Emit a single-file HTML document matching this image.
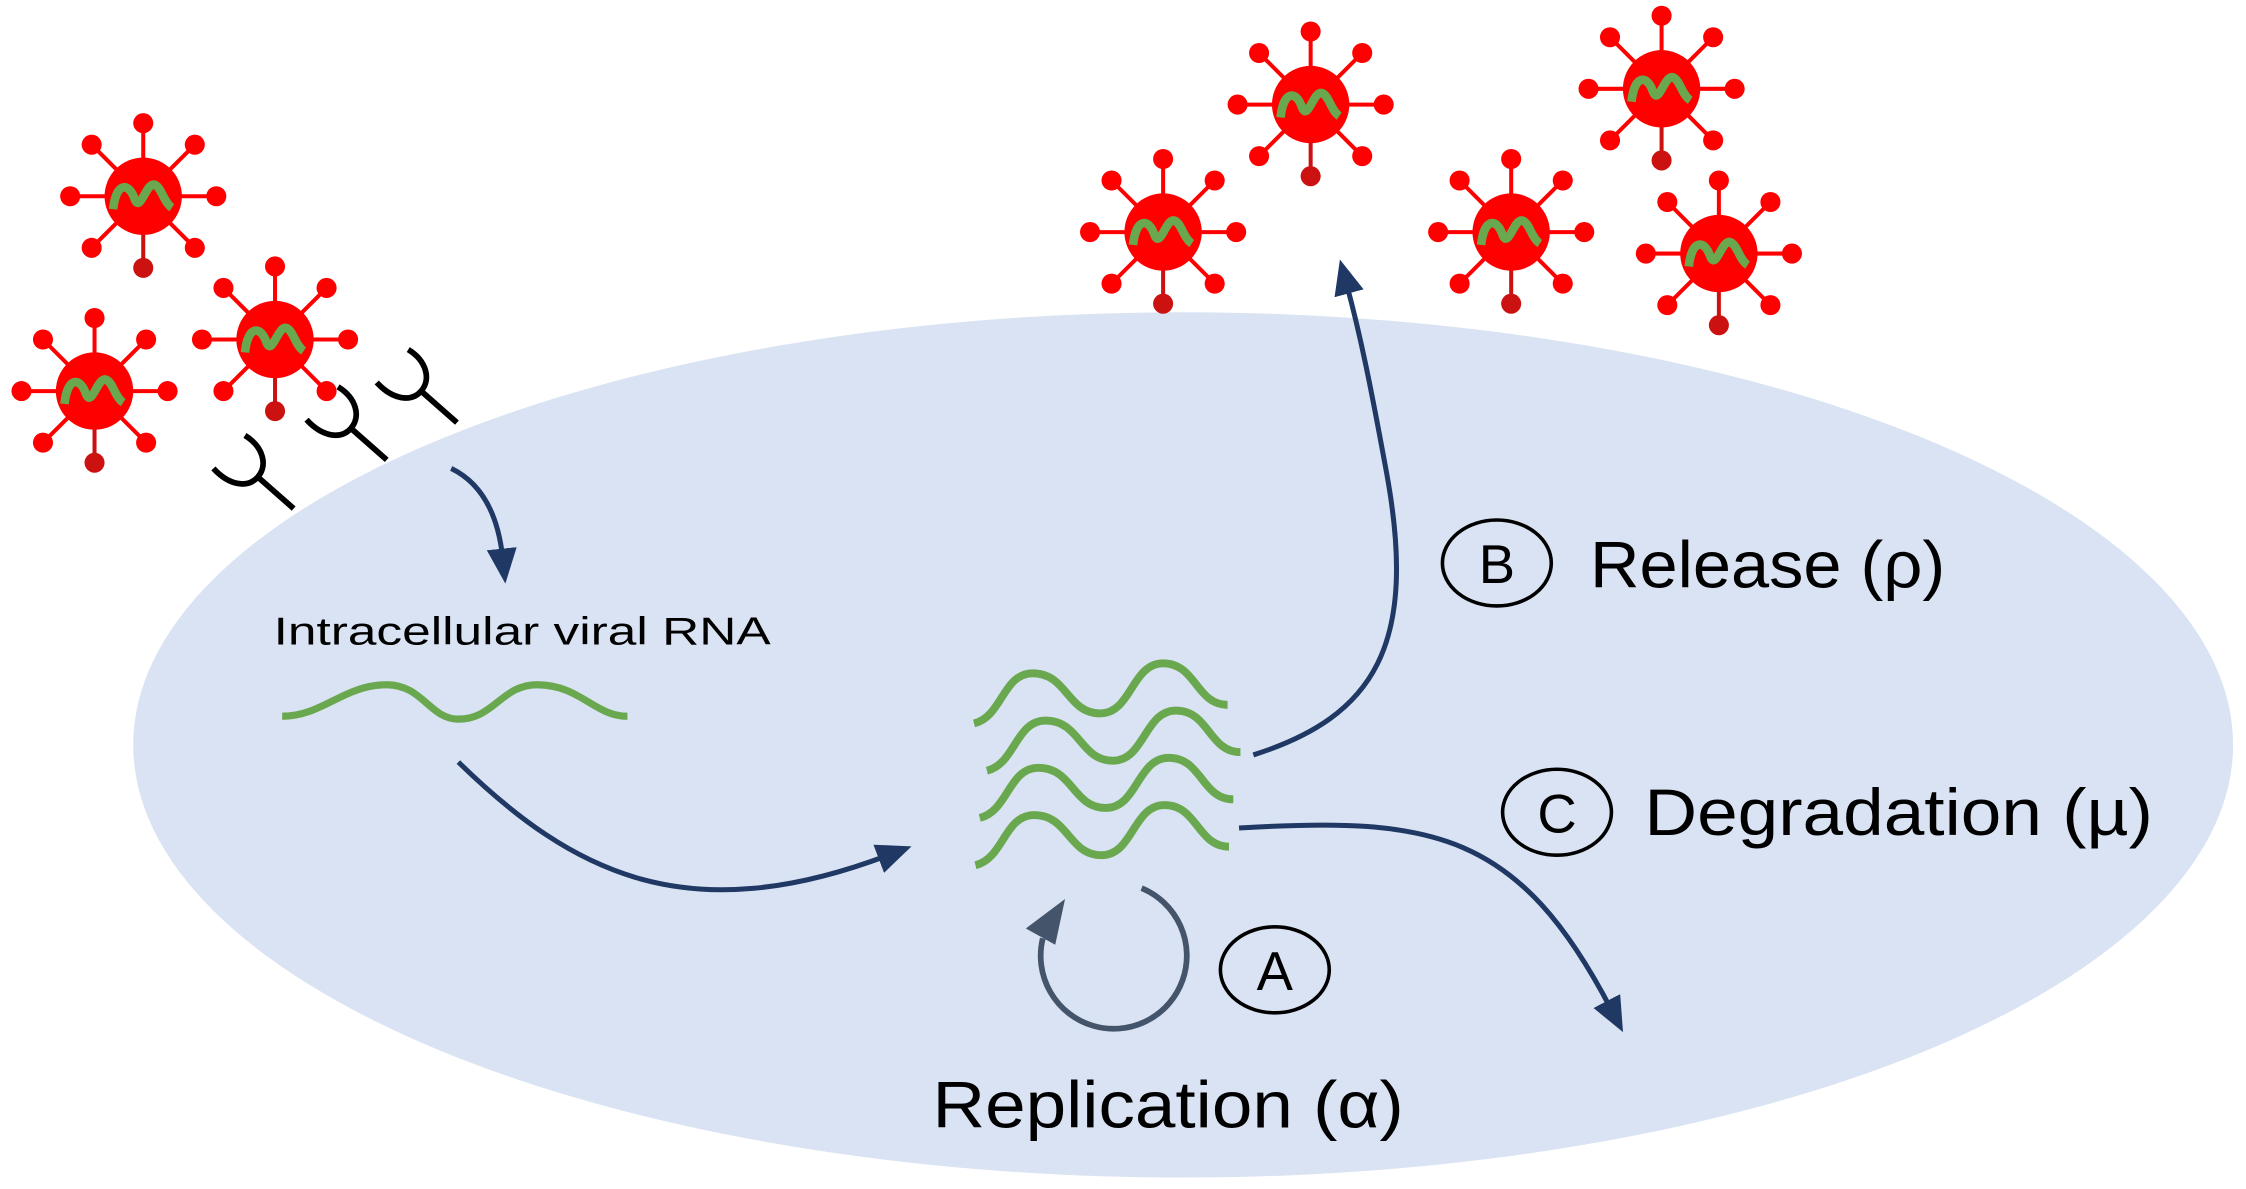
<!DOCTYPE html>
<html><head><meta charset="utf-8"><style>html,body{margin:0;padding:0;background:#fff}svg{display:block}</style></head>
<body>
<svg width="2246" height="1189" viewBox="0 0 1568 830" preserveAspectRatio="none" xmlns="http://www.w3.org/2000/svg">
<defs>
<g id="v">
  <g stroke="#ff0000" stroke-width="2.8">
    <line x1="0" y1="0" x2="0" y2="-51"/><line x1="0" y1="0" x2="51" y2="0"/><line x1="0" y1="0" x2="-51" y2="0"/>
    <line x1="0" y1="0" x2="36" y2="36"/><line x1="0" y1="0" x2="-36" y2="36"/><line x1="0" y1="0" x2="36" y2="-36"/><line x1="0" y1="0" x2="-36" y2="-36"/>
  </g>
  <line x1="0" y1="0" x2="0" y2="50" stroke="#cc1111" stroke-width="2.8"/>
  <g fill="#ff0000">
    <circle cx="0" cy="-51" r="7"/><circle cx="51" cy="0" r="7"/><circle cx="-51" cy="0" r="7"/>
    <circle cx="36" cy="36" r="7"/><circle cx="-36" cy="36" r="7"/><circle cx="36" cy="-36" r="7"/><circle cx="-36" cy="-36" r="7"/>
    <circle cx="0" cy="0" r="27"/>
  </g>
  <circle cx="0" cy="50" r="7" fill="#cc1111"/>
  <path d="M-21,9 C-19,-10 -10,-10 -6,2 C-2,12 2,-10 8,-8 C13,-6 14,4 20,8" fill="none" stroke="#6aa84f" stroke-width="6"/>
</g>
<g id="y">
  <path d="M205,355 L180,333 M149,327 C160,339 173,341 180,333 C187,325 184,312 171,304" fill="none" stroke="#000" stroke-width="4"/>
</g>
<path id="w" d="M680,505 C700,500 700,470 721,470 C745,470 745,498 768,498 C790,498 790,463 812,463 C835,463 835,492 857,492" fill="none" stroke="#6aa84f" stroke-width="5.5"/>
<marker id="ah" markerWidth="7" markerHeight="6" refX="2" refY="3" orient="auto" markerUnits="strokeWidth">
  <path d="M0,0 L7,3 L0,6 Z" fill="#1f3864"/>
</marker>
</defs>
<ellipse cx="826" cy="520" rx="733" ry="302" fill="#dae3f3"/>

<use href="#v" transform="translate(100,137)"/>
<use href="#v" transform="translate(66,273)"/>
<use href="#v" transform="translate(192,237)"/>
<use href="#v" transform="translate(812,162)"/>
<use href="#v" transform="translate(915,73)"/>
<use href="#v" transform="translate(1160,62)"/>
<use href="#v" transform="translate(1055,162)"/>
<use href="#v" transform="translate(1200,177)"/>

<use href="#y"/>
<use href="#y" transform="translate(65,-34)"/>
<use href="#y" transform="translate(114,-60)"/>

<g fill="none" stroke="#1f3864" stroke-width="3.5">
  <path d="M315,327 Q346,342 351,390" marker-end="url(#ah)"/>
  <path d="M320,532 C400,610 480,650 620,597" marker-end="url(#ah)"/>
  <path d="M875,527 C960,500 990,450 968,330 C957,270 950,235 940,198" marker-end="url(#ah)"/>
  <path d="M865,578 C1000,570 1060,580 1125,705" marker-end="url(#ah)"/>
</g>
<path d="M797,620 A51,51 0 1 1 728,655" fill="none" stroke="#44546a" stroke-width="4"/>
<path d="M718,648 L742,630 L736,658 Z" fill="#44546a" stroke="#44546a" stroke-width="2"/>

<path d="M197,500 C225,500 240,478 270,478 C295,478 300,502 320,502 C345,502 350,478 375,478 C405,478 415,500 438,500" fill="none" stroke="#6aa84f" stroke-width="5"/>
<use href="#w"/>
<use href="#w" transform="translate(9,33)"/>
<use href="#w" transform="translate(4,66)"/>
<use href="#w" transform="translate(1,99)"/>

<g font-family="Liberation Sans, sans-serif" fill="#000">
  <text x="191" y="450" font-size="27" textLength="347" lengthAdjust="spacingAndGlyphs">Intracellular viral RNA</text>
  <text x="1110" y="410" font-size="46" textLength="248" lengthAdjust="spacingAndGlyphs">Release (ρ)</text>
  <text x="1148" y="583" font-size="46" textLength="355" lengthAdjust="spacingAndGlyphs">Degradation (µ)</text>
  <text x="651" y="787" font-size="46" textLength="329" lengthAdjust="spacingAndGlyphs">Replication (α)</text>
  <text x="1045" y="407" font-size="38" text-anchor="middle">B</text>
  <text x="1087" y="581" font-size="38" text-anchor="middle">C</text>
  <text x="890" y="691" font-size="38" text-anchor="middle">A</text>
</g>
<g fill="none" stroke="#000" stroke-width="2.5">
  <ellipse cx="1045" cy="393" rx="38" ry="30"/>
  <ellipse cx="1087" cy="567" rx="38" ry="30"/>
  <ellipse cx="890" cy="677" rx="38" ry="30"/>
</g>
</svg>
</body></html>
